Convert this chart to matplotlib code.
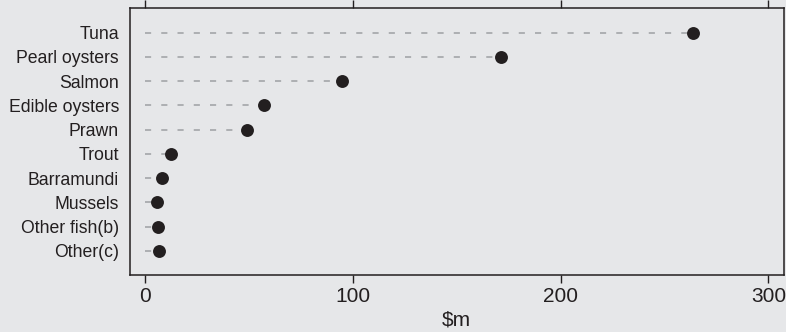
import matplotlib.pyplot as plt

categories = ["Tuna", "Pearl oysters", "Salmon", "Edible oysters", "Prawn",
              "Trout", "Barramundi", "Mussels", "Other fish(b)", "Other(c)"]
values = [263.8, 171.3, 94.8, 57.3, 48.9, 12.4, 8.0, 5.8, 6.3, 6.6]
xticks = [0, 100, 200, 300]

bg = "#e6e7e9"
ink = "#231f20"

plt.rcParams["font.family"] = ["Liberation Sans", "DejaVu Sans"]

fig = plt.figure(figsize=(7.86, 3.32), dpi=100, facecolor=bg)
ax = fig.add_axes([129.5 / 786, 1 - 275 / 332, (784 - 129.5) / 786, (275 - 8.3) / 332])
ax.set_facecolor(bg)

n = len(categories)
ypos = list(range(n, 0, -1))
for y, v in zip(ypos, values):
    ax.plot([0, v], [y, y], color="#a9abae", lw=1.3, dashes=(3.4, 5.6), zorder=1)
ax.scatter(values, ypos, s=9.3 ** 2, color=ink, zorder=3, linewidths=0)

ax.set_xlim(-7.5, 307.5)
ax.set_ylim(0, n + 1)
ax.set_yticks(ypos)
ax.set_yticklabels(categories, fontsize=12.7, color=ink)
ax.set_xticks(xticks)
ax.set_xticklabels([str(t) for t in xticks], fontsize=15, color=ink)
ax.tick_params(axis="y", length=0, pad=7.5)
ax.tick_params(axis="x", direction="out", length=6, width=1, color=ink,
               top=True, labeltop=False, pad=2.5)
ax.set_xlabel("$m", fontsize=15, color=ink, labelpad=3.5)
for s in ax.spines.values():
    s.set_color(ink)
    s.set_linewidth(1.1)

fig.savefig("out.png", dpi=100, facecolor=bg)
